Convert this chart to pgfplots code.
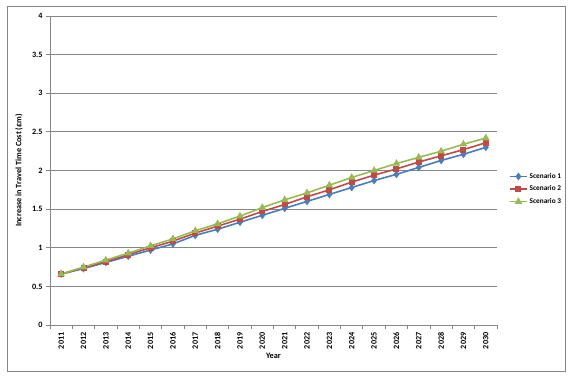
\documentclass[border=0pt]{standalone}
\usepackage{fontspec}
\setmainfont{Carlito}
\usepackage{pgfplots}
\pgfplotsset{compat=1.18}
\definecolor{sblue}{HTML}{4A7EBB}
\definecolor{sred}{HTML}{BE4B48}
\definecolor{sgreen}{HTML}{98B954}
\definecolor{gridc}{HTML}{868686}
\begin{document}
\begin{tikzpicture}[x=1bp,y=1bp]
\useasboundingbox (0,0) rectangle (573,377);
\draw[gridc, line width=1bp] (7,6) rectangle (565,370);
\begin{axis}[
  at={(50bp,52bp)}, anchor=south west,
  scale only axis, width=447bp, height=309bp,
  xmin=-0.5, xmax=19.5, ymin=0, ymax=4,
  xtick={0,...,19},
  xticklabels={2011,2012,2013,2014,2015,2016,2017,2018,2019,2020,2021,2022,2023,2024,2025,2026,2027,2028,2029,2030},
  x tick label style={rotate=90, anchor=east},
  minor xtick={-0.5,0.5,...,19.5},
  major x tick style={draw=none},
  ytick={0,0.5,...,4},
  ymajorgrids, grid style={gridc, line width=0.9bp},
  axis line style={gridc, line width=0.9bp},
  tick style={gridc, line width=0.9bp},
  tick align=outside, xtick pos=bottom, ytick pos=left,
  major tick length=4bp, minor tick length=4bp,
  axis x line*=bottom, axis y line*=left,
  /pgf/number format/assume math mode=true,
  tick label style={font=\fontsize{8.2}{9}\selectfont\bfseries},
  label style={font=\fontsize{8.3}{9}\selectfont\bfseries},
  xlabel={Year}, ylabel={Increase in Travel Time Cost (£m)},
  xlabel style={at={(axis description cs:0.5,-0.1003)}, anchor=center},
  ylabel style={at={(axis description cs:-0.0694,0.5)}, anchor=center},
  legend style={at={(1.02,0.44)}, anchor=west, draw=none, fill=none,
    font=\fontsize{7.3}{8}\selectfont\bfseries, row sep=2bp},
  legend cell align=left,
  every axis plot/.append style={line width=1.6bp},
]
\addplot[color=sblue, mark=diamond*, mark size=2.6bp, mark options={solid}] coordinates {
(0,0.66)(1,0.73)(2,0.81)(3,0.89)(4,0.97)(5,1.05)(6,1.16)(7,1.24)(8,1.33)(9,1.42)
(10,1.51)(11,1.60)(12,1.69)(13,1.78)(14,1.87)(15,1.95)(16,2.04)(17,2.13)(18,2.21)(19,2.30)};
\addlegendentry{Scenario 1}
\addplot[color=sred, mark=square*, mark size=2.2bp] coordinates {
(0,0.66)(1,0.74)(2,0.82)(3,0.91)(4,1.00)(5,1.085)(6,1.19)(7,1.28)(8,1.37)(9,1.47)
(10,1.56)(11,1.66)(12,1.75)(13,1.85)(14,1.94)(15,2.02)(16,2.11)(17,2.19)(18,2.27)(19,2.36)};
\addlegendentry{Scenario 2}
\addplot[color=sgreen, mark=triangle*, mark size=2.8bp] coordinates {
(0,0.66)(1,0.75)(2,0.84)(3,0.93)(4,1.025)(5,1.115)(6,1.22)(7,1.31)(8,1.41)(9,1.52)
(10,1.62)(11,1.71)(12,1.81)(13,1.91)(14,2.00)(15,2.09)(16,2.17)(17,2.25)(18,2.34)(19,2.42)};
\addlegendentry{Scenario 3}
\end{axis}
\end{tikzpicture}
\end{document}
